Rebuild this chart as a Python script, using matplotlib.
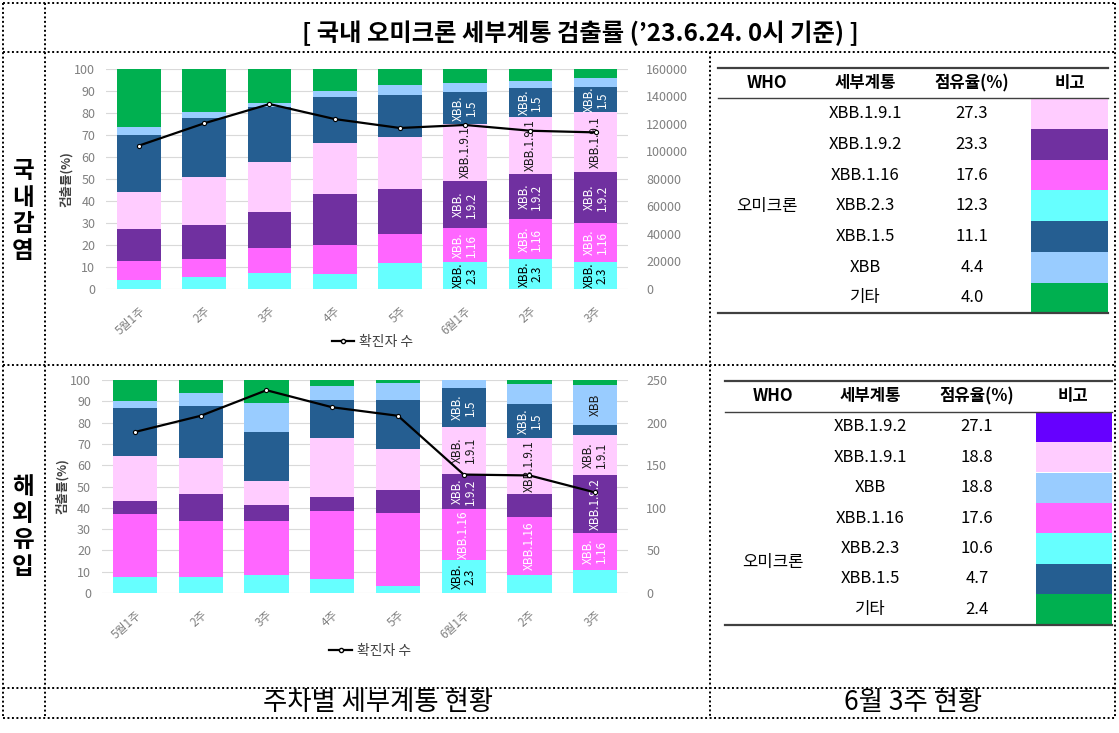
import matplotlib
matplotlib.use('Agg')
import matplotlib.pyplot as plt
from matplotlib.lines import Line2D
from matplotlib.patches import Rectangle
import numpy as np

plt.rcParams['font.family'] = ['Noto Sans CJK KR', 'DejaVu Sans']

weeks = ['5월1주', '2주', '3주', '4주', '5주', '6월1주', '2주', '3주']
lineages = ['XBB.2.3', 'XBB.1.16', 'XBB.1.9.2', 'XBB.1.9.1', 'XBB.1.5', 'XBB', '기타']
colors = ['#66FFFF', '#FF66FF', '#7030A0', '#FFCCFF', '#255E91', '#99CCFF', '#00B050']
text_colors = ['#000000', '#FFFFFF', '#FFFFFF', '#1A1A1A', '#FFFFFF', '#1A1A1A', '#FFFFFF']

# 국내감염 (%)
dom_23 = [4.0, 5.6, 7.1, 6.7, 11.7, 12.1, 13.6, 12.3]
dom_116 = [8.9, 8.0, 11.4, 13.3, 13.3, 15.5, 18.2, 17.6]
dom_192 = [14.4, 15.5, 16.7, 23.2, 20.5, 21.5, 20.5, 23.3]
dom_191 = [16.6, 22.0, 22.7, 23.0, 23.7, 25.9, 26.0, 27.3]
dom_15 = [26.3, 26.5, 25.0, 21.2, 19.0, 14.4, 13.1, 11.1]
dom_xbb = [3.3, 3.0, 1.8, 2.8, 4.5, 4.1, 3.3, 4.4]
dom_etc = [26.5, 19.4, 15.3, 9.8, 7.3, 6.5, 5.3, 4.0]
dom_cases = [104300, 120500, 134500, 123600, 117100, 119300, 115100, 113900]

# 해외유입 (%)
imp_23 = [7.5, 7.5, 8.3, 6.7, 3.4, 15.6, 8.6, 10.6]
imp_116 = [29.7, 26.1, 25.3, 31.6, 34.1, 23.9, 27.3, 17.6]
imp_192 = [6.2, 12.8, 7.8, 7.0, 10.8, 16.4, 10.7, 27.1]
imp_191 = [20.8, 17.2, 11.3, 27.7, 19.2, 22.2, 26.4, 18.8]
imp_15 = [22.8, 24.2, 23.1, 17.6, 23.1, 18.0, 15.6, 4.7]
imp_xbb = [3.2, 6.0, 13.3, 6.7, 7.8, 3.9, 9.5, 18.8]
imp_etc = [9.8, 6.2, 10.9, 2.7, 1.6, 0.0, 1.9, 2.4]
imp_cases = [189, 208, 238, 218, 208, 139, 138, 118]

# bar labels: (week index, lineage index, text)
dom_labels = [(5, 0, 'XBB.\n2.3'), (5, 1, 'XBB.\n1.16'), (5, 2, 'XBB.\n1.9.2'), (5, 3, 'XBB.1.9.1'), (5, 4, 'XBB.\n1.5'),
              (6, 0, 'XBB.\n2.3'), (6, 1, 'XBB.\n1.16'), (6, 2, 'XBB.\n1.9.2'), (6, 3, 'XBB.1.9.1'), (6, 4, 'XBB.\n1.5'),
              (7, 0, 'XBB.\n2.3'), (7, 1, 'XBB.\n1.16'), (7, 2, 'XBB.\n1.9.2'), (7, 3, 'XBB.1.9.1'), (7, 4, 'XBB.\n1.5')]
imp_labels = [(5, 0, 'XBB.\n2.3'), (5, 1, 'XBB.1.16'), (5, 2, 'XBB.\n1.9.2'), (5, 3, 'XBB.\n1.9.1'), (5, 4, 'XBB.\n1.5'),
              (6, 1, 'XBB.1.16'), (6, 3, 'XBB.1.9.1'), (6, 4, 'XBB.\n1.5'),
              (7, 1, 'XBB.\n1.16'), (7, 2, 'XBB.1.9.2'), (7, 3, 'XBB.\n1.9.1'), (7, 5, 'XBB')]

# 6월 3주 현황 tables
tab1_names = ['XBB.1.9.1', 'XBB.1.9.2', 'XBB.1.16', 'XBB.2.3', 'XBB.1.5', 'XBB', '기타']
tab1_share = ['27.3', '23.3', '17.6', '12.3', '11.1', '4.4', '4.0']
tab1_colors = ['#FFCCFF', '#7030A0', '#FF66FF', '#66FFFF', '#255E91', '#99CCFF', '#00B050']
tab2_names = ['XBB.1.9.2', 'XBB.1.9.1', 'XBB', 'XBB.1.16', 'XBB.2.3', 'XBB.1.5', '기타']
tab2_share = ['27.1', '18.8', '18.8', '17.6', '10.6', '4.7', '2.4']
tab2_colors = ['#6600FF', '#FFCCFF', '#99CCFF', '#FF66FF', '#66FFFF', '#255E91', '#00B050']

W, H = 1119, 733
fig = plt.figure(figsize=(W / 100, H / 100), dpi=100)
bg = fig.add_axes([0, 0, 1, 1])
bg.set_xlim(0, W)
bg.set_ylim(H, 0)
bg.axis('off')

dot = dict(color='black', lw=1.4, linestyle=(0, (1, 1.3)))
for yy in [3, 52, 365, 688, 718]:
    bg.plot([3, 1115], [yy, yy], **dot)
for xx in [3, 45, 1115]:
    bg.plot([xx, xx], [3, 718], **dot)
bg.plot([710, 710], [52, 718], **dot)

bg.text(580, 33, '[ 국내 오미크론 세부계통 검출률 (’23.6.24. 0시 기준) ]', ha='center', va='center',
        fontsize=17.5, fontweight='bold')
bg.text(23, 211, '국\n내\n감\n염', ha='center', va='center', fontsize=17, fontweight='bold', linespacing=1.15)
bg.text(23, 527, '해\n외\n유\n입', ha='center', va='center', fontsize=17, fontweight='bold', linespacing=1.15)
bg.text(378, 703, '주차별 세부계통 현황', ha='center', va='center', fontsize=19)
bg.text(913, 703, '6월 3주 현황', ha='center', va='center', fontsize=19)


def draw_table(left, right, top, head_bot, row_h, sw_left, cols, names, shares, sw_colors, omi_y):
    bg.plot([left, right], [top, top], color='#404040', lw=1.6)
    bg.plot([left, right], [head_bot, head_bot], color='#404040', lw=1.0)
    bottom = head_bot + row_h * len(names)
    bg.plot([left, right], [bottom, bottom], color='#404040', lw=1.6)
    hy = (top + head_bot) / 2
    for cx, h in zip(cols, ['WHO', '세부계통', '점유율(%)', '비고']):
        bg.text(cx, hy, h, ha='center', va='center', fontsize=12, fontweight='bold')
    for i, (n, s, c) in enumerate(zip(names, shares, sw_colors)):
        y0 = head_bot + i * row_h
        bg.add_patch(Rectangle((sw_left, y0), right - sw_left, row_h, facecolor=c, edgecolor='none'))
        bg.text(cols[1], y0 + row_h / 2, n, ha='center', va='center', fontsize=12)
        bg.text(cols[2], y0 + row_h / 2, s, ha='center', va='center', fontsize=12)
    bg.text(cols[0], omi_y, '오미크론', ha='center', va='center', fontsize=12)


draw_table(718, 1108, 67.7, 98.3, 30.7, 1031, [767, 865, 972, 1070],
           tab1_names, tab1_share, tab1_colors, 207)
draw_table(725, 1112, 381, 411.7, 30.4, 1036, [773, 870, 977, 1073],
           tab2_names, tab2_share, tab2_colors, 563)


def draw_chart(rect, series, cases, labels, cmax, cstep, leg_y):
    ax = fig.add_axes(rect)
    x = np.arange(len(weeks))
    bottom = np.zeros(len(weeks))
    bottoms = []
    for vals, c in zip(series, colors):
        ax.bar(x, vals, 0.67, bottom=bottom, color=c, zorder=2)
        bottoms.append(bottom.copy())
        bottom = bottom + np.array(vals)
    for wi, li, t in labels:
        yc = bottoms[li][wi] + series[li][wi] / 2
        ax.text(wi, yc, t, rotation=90, ha='center', va='center', fontsize=8.5,
                color=text_colors[li], linespacing=1.0, multialignment='center', zorder=3)
    ax.set_xlim(-0.5, len(weeks) - 0.5)
    ax.set_ylim(0, 100)
    ax.set_yticks(range(0, 101, 10))
    ax.yaxis.grid(True, color='#D9D9D9', lw=0.8, zorder=0)
    ax.set_axisbelow(True)
    for s in ax.spines.values():
        s.set_visible(False)
    ax.tick_params(length=0, labelsize=9, colors='#808080', pad=8)
    ax.tick_params(axis='x', pad=11)
    ax.set_xticks(x)
    ax.set_xticklabels(weeks, rotation=42, ha='right', rotation_mode='anchor', fontsize=8.5)
    ax.set_ylabel('검출률(%)', fontsize=9, color='#404040', fontweight='bold', labelpad=1)

    ax2 = ax.twinx()
    ax2.plot(x, cases, color='black', lw=1.6, marker='o', ms=3, mfc='white', mec='black', mew=0.8, zorder=4)
    ax2.set_ylim(0, cmax)
    ax2.set_yticks(range(0, cmax + 1, cstep))
    for s in ax2.spines.values():
        s.set_visible(False)
    ax2.tick_params(length=0, labelsize=9, colors='#808080', pad=13)
    h = Line2D([], [], color='black', lw=1.6, marker='o', ms=3, mfc='white', mec='black')
    ax.legend([h], ['확진자 수'], loc='center', bbox_to_anchor=(0.51, leg_y), frameon=False,
              fontsize=10, labelcolor='#404040', handlelength=1.6, handletextpad=0.4)
    return ax


draw_chart([106.4 / W, 1 - 289 / H, 521.8 / W, 220 / H],
           [dom_23, dom_116, dom_192, dom_191, dom_15, dom_xbb, dom_etc],
           dom_cases, dom_labels, 160000, 20000, -0.24)
draw_chart([102.1 / W, 1 - 593 / H, 526 / W, 213 / H],
           [imp_23, imp_116, imp_192, imp_191, imp_15, imp_xbb, imp_etc],
           imp_cases, imp_labels, 250, 50, -0.27)

fig.savefig('out.png', dpi=100)
